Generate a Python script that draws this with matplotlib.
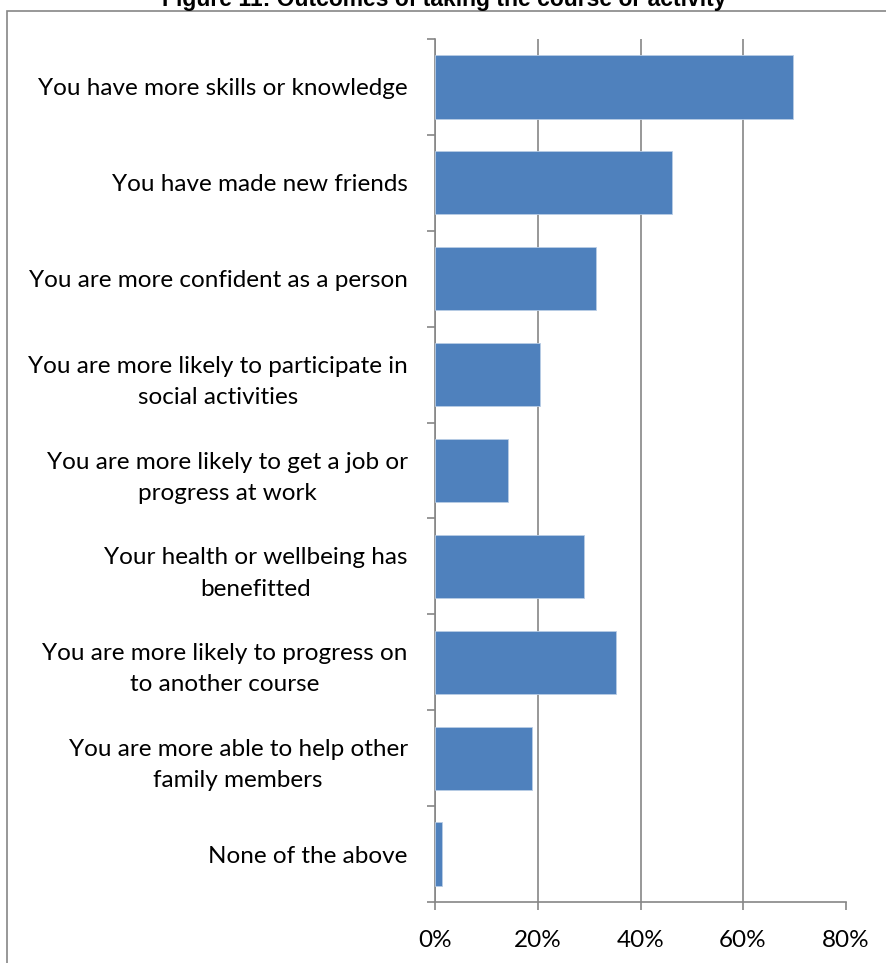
import matplotlib
matplotlib.use("Agg")
import matplotlib.pyplot as plt
from matplotlib.patches import Rectangle
from matplotlib.ticker import FuncFormatter

# --- DATA ---
categories = [
    "You have more skills or knowledge",
    "You have made new friends",
    "You are more confident as a person",
    "You are more likely to participate in\nsocial activities",
    "You are more likely to get a job or\nprogress at work",
    "Your health or wellbeing has\nbenefitted",
    "You are more likely to progress on\nto another course",
    "You are more able to help other\nfamily members",
    "None of the above",
]
shares = [69.8, 46.1, 31.3, 20.4, 14.1, 29.0, 35.2, 18.8, 1.2]
x_ticks = [0, 20, 40, 60, 80]

TITLE = "Figure 11: Outcomes of taking the course or activity"
BAR_COLOR = "#4F81BD"
LINE_COLOR = "#868686"

W, H = 887, 963
fig = plt.figure(figsize=(W / 100, H / 100), dpi=100)

# outer chart frame (runs off the right and bottom edges)
fig.patches.append(Rectangle((7 / W, -0.05), 1.1, 1 - 11 / H + 0.05,
                             transform=fig.transFigure, fill=False,
                             edgecolor=LINE_COLOR, linewidth=1.2))
fig.text(444 / W, 1 - 6 / H, TITLE, ha="center", va="baseline",
         fontsize=16.5, fontweight="bold", family="Liberation Sans")

ax = fig.add_axes([435.5 / W, 1 - 902 / H, (845.5 - 435.5) / W, (902 - 39) / H])

ypos = list(range(len(categories)))
ax.barh(ypos, shares, height=0.66, color=BAR_COLOR, edgecolor="#B9CDE5",
        linewidth=0.6, zorder=3)

ax.set_xlim(0, 80)
ax.set_ylim(len(categories) - 0.5, -0.5)
ax.set_xticks(x_ticks)
ax.xaxis.set_major_formatter(FuncFormatter(lambda v, _: f"{v:.0f}%"))

# category boundaries carry the y ticks, labels sit at the centres
ax.set_yticks([i - 0.5 for i in range(len(categories) + 1)])
ax.set_yticklabels([])
ax.set_yticks(ypos, minor=True)
ax.set_yticklabels(categories, minor=True)
ax.tick_params(axis="y", which="minor", length=0, pad=20)
for lbl in ax.get_yticklabels(minor=True):
    lbl.set_multialignment("center")
    lbl.set_linespacing(1.6)

ax.tick_params(axis="y", which="major", length=6, width=1.2, color=LINE_COLOR)
ax.tick_params(axis="x", length=6, width=1.2, color=LINE_COLOR, pad=14)
for lbl in ax.get_yticklabels(minor=True) + ax.get_xticklabels():
    lbl.set_family("Lato")
    lbl.set_fontsize(17.5)

ax.grid(axis="x", color=LINE_COLOR, linewidth=1.2, zorder=0)
for side in ("top", "right"):
    ax.spines[side].set_visible(False)
for side in ("left", "bottom"):
    ax.spines[side].set_color(LINE_COLOR)
    ax.spines[side].set_linewidth(1.2)

fig.savefig("out.png", dpi=100)
